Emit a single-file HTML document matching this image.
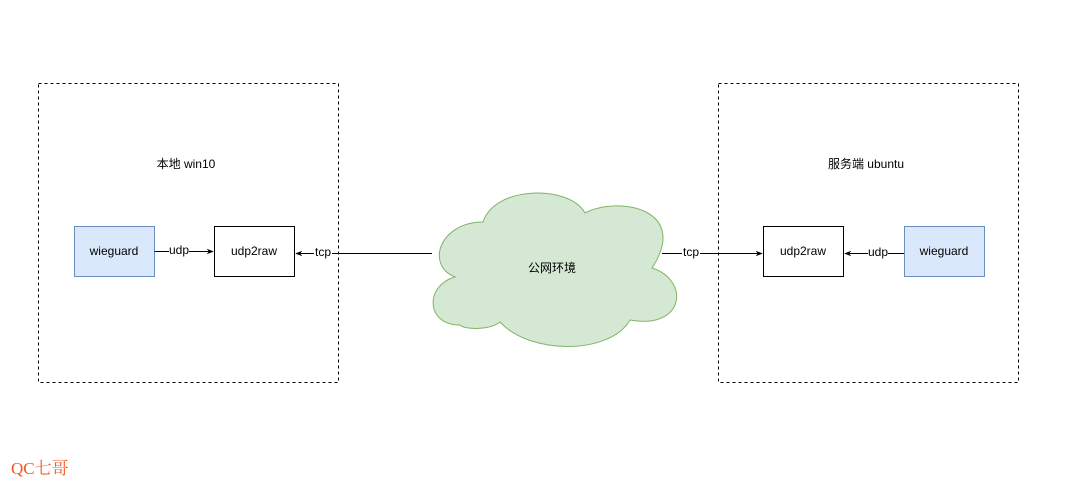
<!DOCTYPE html>
<html><head><meta charset="utf-8"><style>body{margin:0;background:#fff}svg{display:block}text{font-family:"Liberation Sans","Noto Sans CJK SC",sans-serif;font-size:12px;fill:#000}</style></head><body>
<svg width="1069" height="489" viewBox="0 0 1069 489" xmlns="http://www.w3.org/2000/svg">
<defs><marker id="a" viewBox="0 0 10 10" refX="9" refY="5" markerWidth="7" markerHeight="7" orient="auto"><path d="M0 1 L10 5 L0 9 L3 5 Z" fill="#000"/></marker></defs>
<rect x="38.5" y="83.5" width="300" height="299" fill="none" stroke="#000" stroke-dasharray="3 3"/>
<rect x="718.5" y="83.5" width="300" height="299" fill="none" stroke="#000" stroke-dasharray="3 3"/>
<text x="186" y="168" text-anchor="middle">本地 win10</text>
<text x="866" y="168" text-anchor="middle">服务端 ubuntu</text>
<rect x="74.5" y="226.5" width="80" height="50" fill="#dae8fc" stroke="#6c8ebf"/>
<text x="114" y="255" text-anchor="middle">wieguard</text>
<rect x="214.5" y="226.5" width="80" height="50" fill="#fff" stroke="#000"/>
<text x="254" y="255" text-anchor="middle">udp2raw</text>
<rect x="763.5" y="226.5" width="80" height="50" fill="#fff" stroke="#000"/>
<text x="803" y="255" text-anchor="middle">udp2raw</text>
<rect x="904.5" y="226.5" width="80" height="50" fill="#dae8fc" stroke="#6c8ebf"/>
<text x="944" y="255" text-anchor="middle">wieguard</text>
<path d="M460 325 C425 325 425 285 455 277 C425 265 440 222 483 222 C495 185 570 185 585 213 C620 195 690 210 652 268 C690 280 685 330 630 320 C610 355 530 355 500 322 C490 330 465 330 460 325 Z" fill="#d5e8d4" stroke="#82b366"/>
<text x="552" y="272" text-anchor="middle">公网环境</text>
<line x1="154.5" y1="251.5" x2="213" y2="251.5" stroke="#000" marker-end="url(#a)"/>
<rect x="169" y="244" width="20" height="12" fill="#fff"/><text x="179" y="254" text-anchor="middle" font-size="11">udp</text>
<line x1="432" y1="253.5" x2="296" y2="253.5" stroke="#000" marker-end="url(#a)"/>
<rect x="314" y="246" width="18" height="12" fill="#fff"/><text x="323" y="256" text-anchor="middle" font-size="11">tcp</text>
<line x1="662" y1="253.5" x2="762" y2="253.5" stroke="#000" marker-end="url(#a)"/>
<rect x="682" y="246" width="18" height="12" fill="#fff"/><text x="691" y="256" text-anchor="middle" font-size="11">tcp</text>
<line x1="904" y1="253.5" x2="845" y2="253.5" stroke="#000" marker-end="url(#a)"/>
<rect x="868" y="246" width="20" height="12" fill="#fff"/><text x="878" y="256" text-anchor="middle" font-size="11">udp</text>
<text x="11" y="474" style="font-family:'Liberation Serif','Noto Serif CJK SC',serif;font-size:17px;fill:#f05a28">QC七哥</text>
</svg>
</body></html>
